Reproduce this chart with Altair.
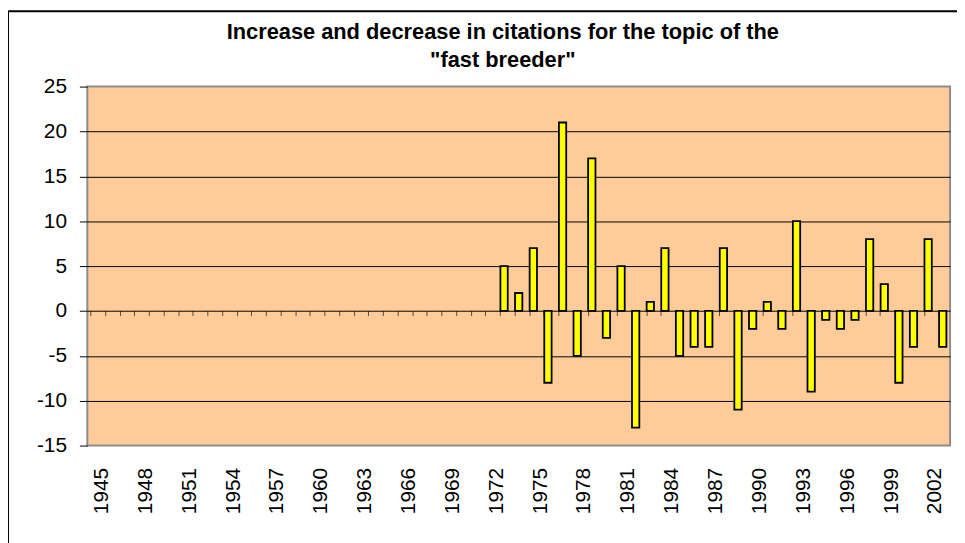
import altair as alt
import pandas as pd

# Categories (every year on the axis) and the yearly change values
years = list(range(1945, 2004))
bar_years = list(range(1973, 2004))
changes = [5, 2, 7, -8, 21, -5, 17, -3, 5, -13,
           1, 7, -5, -4, -4, 7, -11, -2, 1, -2,
           10, -9, -1, -2, -1, 8, 3, -8, -4, 8, -4]
y_ticks = [-15, -10, -5, 0, 5, 10, 15, 20, 25]
title_lines = ["Increase and decrease in citations for the topic of the", "\"fast breeder\""]

df = pd.DataFrame({"year": bar_years, "change": changes})

FONT = "Liberation Sans"

x_scale = alt.Scale(domain=years, paddingInner=0.5, paddingOuter=0.25)
y_scale = alt.Scale(domain=[-15, 25], nice=False, zero=False)

bars = alt.Chart(df).mark_bar(
    color="#FFFF00", stroke="black", strokeWidth=1.8
).encode(
    x=alt.X("year:O", scale=x_scale, title=None,
            axis=alt.Axis(
                offset=-136, domain=True, domainColor="black", domainWidth=1,
                ticks=True, tickSize=5, tickColor="#5a4a3a", tickWidth=1,
                bandPosition=0, labelOffset=7.37,
                labelAngle=-90, labelFontSize=21, labelFont=FONT, labelColor="black",
                labelPadding=153, labelOverlap=False,
                labelExpr="(datum.value - 1945) % 3 == 0 ? datum.label : ''",
                grid=False)),
    y=alt.Y("change:Q", scale=y_scale, title=None,
            axis=alt.Axis(values=y_ticks, domain=False, ticks=True, tickSize=8,
                          tickColor="black", labelFontSize=21, labelFont=FONT,
                          labelColor="black", labelPadding=13,
                          labelExpr="datum.value < 0 ? '-' + abs(datum.value) : '' + datum.value",
                          grid=True,
                          gridColor={"condition": {"test": "datum.value == 25 || datum.value == -15 || datum.value == 0",
                                                   "value": "transparent"},
                                     "value": "black"},
                          gridWidth=1)),
)

one = alt.Data(values=[{}])
frame_top = alt.Chart(one).mark_rule(color="black", strokeWidth=2).encode(
    x=alt.value(-80), x2=alt.value(960), y=alt.value(-76))
frame_left = alt.Chart(one).mark_rule(color="black", strokeWidth=2).encode(
    x=alt.value(-80), y=alt.value(-76), y2=alt.value(470))

title1 = alt.Chart(alt.Data(values=[{"t": title_lines[0]}])).mark_text(
    font=FONT, fontSize=22, fontWeight="bold", color="black", align="center", baseline="alphabetic"
).encode(text="t:N", x=alt.value(419), y=alt.value(-48))
title2 = alt.Chart(alt.Data(values=[{"t": title_lines[1]}])).mark_text(
    font=FONT, fontSize=22, fontWeight="bold", color="black", align="center", baseline="alphabetic"
).encode(text="t:N", x=alt.value(419), y=alt.value(-20))

chart = alt.layer(bars, frame_top, frame_left, title1, title2).properties(
    width=870, height=362,
    autosize=alt.AutoSizeParams(type="none"),
    padding={"left": 80, "top": 77, "right": 7, "bottom": 97},
    background="white",
).configure_view(
    fill="#FFCC99", stroke="#8c8c8c", strokeWidth=2
)

chart.save("out.html", embed_options={"renderer": "svg", "actions": False})
